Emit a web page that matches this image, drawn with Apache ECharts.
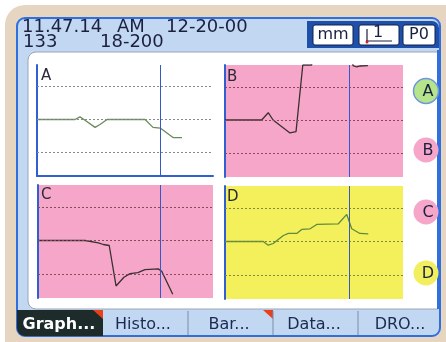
<!DOCTYPE html>
<html>
<head>
<meta charset="utf-8">
<script src="https://cdn.jsdelivr.net/npm/echarts@6/dist/echarts.min.js"></script>
<style>html,body{margin:0;padding:0;background:#ffffff;}#c{width:446px;height:342px;}</style>
</head>
<body>
<div id="c"></div>
<script>
// Data (x: position 0-100 across the trace window, y: deviation in grid units)
const traceA = [[0,0],[21.6,0],[24.4,0.08],[26.7,0],[33,-0.24],[35.8,-0.15],[39.8,0],[61.4,0],[65.9,-0.24],[70,-0.26],[77.3,-0.55],[82.4,-0.55]];
const traceB = [[0,0],[20.6,0],[24.3,0.22],[27,0],[36.5,-0.39],[39.9,-0.35],[43.7,1.66],[48.7,1.66],[50.6,3],[70.2,3],[71.9,1.64],[74,1.6],[76,1.63],[80.3,1.64]];
const traceC = [[0,0],[26.9,0],[34.5,-0.07],[37.3,-0.12],[40.7,-0.15],[41.7,-0.12],[44.6,-1.36],[49.1,-1.1],[52.6,-0.99],[57.1,-0.96],[61.1,-0.87],[68.7,-0.85],[70.7,-0.92],[77,-1.61]];
const traceD = [[0,0],[21.5,0],[24.3,-0.11],[27.1,-0.06],[29.9,0.06],[32.8,0.18],[35.6,0.24],[40.3,0.24],[43.1,0.36],[47.8,0.38],[51.5,0.51],[63.7,0.53],[68.4,0.81],[71.2,0.38],[75.8,0.24],[80.5,0.23]];
const gridLevels = [-1, 0, 1];
const cursorX = 70;
const panelNames = ['A','B','C','D'];
const headerTime = '11.47.14';
const headerAmPm = 'AM';
const headerDate = '12-20-00';
const headerCount = '133';
const headerRange = '18-200';
const tabLabels = ['Graph...','Histo...','Bar...','Data...','DRO...'];

const chart = echarts.init(document.getElementById('c'), null, {renderer:'canvas'});

const grids = [
  {left:37, top:65, width:176, height:111, bg:'#ffffff', line:'#6a8a5c', dot:'#8a8a8a', bottomAxis:true},
  {left:225, top:65, width:178, height:112, bg:'#f6a7c9', line:'#3a3030', dot:'#8a4a5a', bottomAxis:false},
  {left:38, top:185, width:175, height:113, bg:'#f6a7c9', line:'#3a3030', dot:'#8a4a5a', bottomAxis:false},
  {left:225, top:186, width:178, height:113, bg:'#f3f05c', line:'#5f8c3a', dot:'#7f8a40', bottomAxis:false}
];
const traces = [traceA, traceB, traceC, traceD];
const hdrFont = '18px "DejaVu Sans"';

const option = {
  animation:false,
  grid: grids.map(g => ({left:g.left, top:g.top, width:g.width, height:g.height, show:true, backgroundColor:g.bg, borderWidth:0})),
  xAxis: grids.map((g,i) => ({type:'value', gridIndex:i, min:0, max:100, axisLabel:{show:false}, axisTick:{show:false}, splitLine:{show:false},
    axisLine:{show:g.bottomAxis, onZero:false, lineStyle:{color:'#2f5fd0', width:2}}})),
  yAxis: grids.map((g,i) => ({type:'value', gridIndex:i, min:-1.72, max:1.66, axisLabel:{show:false}, axisTick:{show:false}, splitLine:{show:false},
    axisLine:{show:true, onZero:false, lineStyle:{color:'#2f5fd0', width:2}}})),
  series: traces.map((t,i) => ({
    type:'line', xAxisIndex:i, yAxisIndex:i, data:t, symbol:'none', clip:true,
    lineStyle:{color:grids[i].line, width:1.3},
    markLine:{silent:true, symbol:'none', label:{show:false},
      data: gridLevels.map(v => ({yAxis:v, lineStyle:{color:grids[i].dot, type:[2,2], width:1}}))
        .concat([{xAxis:cursorX, lineStyle:{color:'#3358c8', type:'solid', width:1}}])}
  })),
  graphic: [
    // frame
    {type:'rect', z:-30, shape:{x:5, y:5, width:460, height:360, r:20}, style:{fill:'#e6d5c0'}},
    {type:'rect', z:-29, shape:{x:17, y:18, width:423, height:318, r:8}, style:{fill:'#c2d7f2', stroke:'#2f6fe0', lineWidth:2}},
    // white panel
    {type:'rect', z:-28, shape:{x:28, y:52, width:410, height:257, r:[8,0,0,8]}, style:{fill:'#ffffff', stroke:'#9aa6b6', lineWidth:1}},
    {type:'line', z:-27, shape:{x1:438, y1:50, x2:438, y2:309}, style:{stroke:'#2f6fe0', lineWidth:2}},
    // header text
    {type:'text', z:50, x:22, y:27.5, style:{text:headerTime, font:hdrFont, fill:'#1a2040', verticalAlign:'middle'}},
    {type:'text', z:50, x:117, y:27.5, style:{text:headerAmPm, font:hdrFont, fill:'#1a2040', verticalAlign:'middle'}},
    {type:'text', z:50, x:166, y:27.5, style:{text:headerDate, font:hdrFont, fill:'#1a2040', verticalAlign:'middle'}},
    {type:'text', z:50, x:23, y:42, style:{text:headerCount, font:hdrFont, fill:'#1a2040', verticalAlign:'middle'}},
    {type:'text', z:50, x:100, y:42, style:{text:headerRange, font:hdrFont, fill:'#1a2040', verticalAlign:'middle'}},
    // unit boxes
    {type:'rect', z:40, shape:{x:307, y:21, width:132, height:27, r:[0,7,0,0]}, style:{fill:'#1f4fa8'}},
    {type:'rect', z:41, shape:{x:313, y:25, width:40, height:20, r:2}, style:{fill:'#ffffff', stroke:'#0c2050', lineWidth:1}},
    {type:'rect', z:41, shape:{x:359, y:25, width:40, height:20, r:2}, style:{fill:'#ffffff', stroke:'#0c2050', lineWidth:1}},
    {type:'rect', z:41, shape:{x:403, y:25, width:32, height:20, r:2}, style:{fill:'#ffffff', stroke:'#0c2050', lineWidth:1}},
    {type:'text', z:42, x:333, y:35, style:{text:'mm', font:'16px "DejaVu Sans"', fill:'#1a2040', align:'center', verticalAlign:'middle'}},
    {type:'text', z:42, x:378, y:33, style:{text:'1', font:'16px "DejaVu Sans"', fill:'#1a2040', align:'center', verticalAlign:'middle'}},
    {type:'line', z:42, shape:{x1:366, y1:41, x2:392, y2:41}, style:{stroke:'#1a2040', lineWidth:1}},
    {type:'line', z:42, shape:{x1:367, y1:29, x2:367, y2:41}, style:{stroke:'#1a2040', lineWidth:1.2}},
    {type:'circle', z:43, shape:{cx:367, cy:42, r:1.5}, style:{fill:'#e02020'}},
    {type:'text', z:42, x:419, y:35, style:{text:'P0', font:'16px "DejaVu Sans"', fill:'#1a2040', align:'center', verticalAlign:'middle'}},
    // panel letters
    {type:'text', z:50, left:41, top:69, style:{text:panelNames[0], font:'15px "DejaVu Sans"', fill:'#2a2a3a'}},
    {type:'text', z:50, left:227, top:70, style:{text:panelNames[1], font:'15px "DejaVu Sans"', fill:'#2a2a3a'}},
    {type:'text', z:50, left:41, top:188, style:{text:panelNames[2], font:'15px "DejaVu Sans"', fill:'#2a2a3a'}},
    {type:'text', z:50, left:227, top:190, style:{text:panelNames[3], font:'15px "DejaVu Sans"', fill:'#2a2a3a'}},
    // side circles
    {type:'circle', z:20, shape:{cx:426, cy:91, r:12.5}, style:{fill:'#b6e48a', stroke:'#6f95e0', lineWidth:1.5}},
    {type:'circle', z:20, shape:{cx:426, cy:150, r:12.5}, style:{fill:'#f5a6c9'}},
    {type:'circle', z:20, shape:{cx:426, cy:212, r:12.5}, style:{fill:'#f5a6c9'}},
    {type:'circle', z:20, shape:{cx:426, cy:273, r:12.5}, style:{fill:'#f2ef5e'}},
    {type:'text', z:21, x:428, y:92, style:{text:panelNames[0], font:'16px "DejaVu Sans"', fill:'#1a2040', align:'center', verticalAlign:'middle'}},
    {type:'text', z:21, x:428, y:151, style:{text:panelNames[1], font:'16px "DejaVu Sans"', fill:'#1a2040', align:'center', verticalAlign:'middle'}},
    {type:'text', z:21, x:428, y:213, style:{text:panelNames[2], font:'16px "DejaVu Sans"', fill:'#1a2040', align:'center', verticalAlign:'middle'}},
    {type:'text', z:21, x:428, y:274, style:{text:panelNames[3], font:'16px "DejaVu Sans"', fill:'#1a2040', align:'center', verticalAlign:'middle'}},
    // tabs
    {type:'rect', z:30, shape:{x:17, y:310, width:86, height:26, r:[0,0,0,8]}, style:{fill:'#1e2b2b'}},
    {type:'polygon', z:31, shape:{points:[[93,310],[103,310],[103,319]]}, style:{fill:'#e8401c'}},
    {type:'polygon', z:31, shape:{points:[[263,310],[273,310],[273,319]]}, style:{fill:'#e8401c'}},
    {type:'line', z:31, shape:{x1:188, y1:311, x2:188, y2:335}, style:{stroke:'#7c8ea8', lineWidth:1}},
    {type:'line', z:31, shape:{x1:273, y1:311, x2:273, y2:335}, style:{stroke:'#7c8ea8', lineWidth:1}},
    {type:'line', z:31, shape:{x1:358, y1:311, x2:358, y2:335}, style:{stroke:'#7c8ea8', lineWidth:1}},
    {type:'text', z:32, x:59, y:325, style:{text:tabLabels[0], font:'bold 16px "DejaVu Sans"', fill:'#ffffff', align:'center', verticalAlign:'middle'}},
    {type:'text', z:32, x:143, y:325, style:{text:tabLabels[1], font:'16px "DejaVu Sans"', fill:'#1a2a50', align:'center', verticalAlign:'middle'}},
    {type:'text', z:32, x:229, y:325, style:{text:tabLabels[2], font:'16px "DejaVu Sans"', fill:'#1a2a50', align:'center', verticalAlign:'middle'}},
    {type:'text', z:32, x:314, y:325, style:{text:tabLabels[3], font:'16px "DejaVu Sans"', fill:'#1a2a50', align:'center', verticalAlign:'middle'}},
    {type:'text', z:32, x:400, y:325, style:{text:tabLabels[4], font:'16px "DejaVu Sans"', fill:'#1a2a50', align:'center', verticalAlign:'middle'}}
  ]
};
chart.setOption(option);
</script>
</body>
</html>
